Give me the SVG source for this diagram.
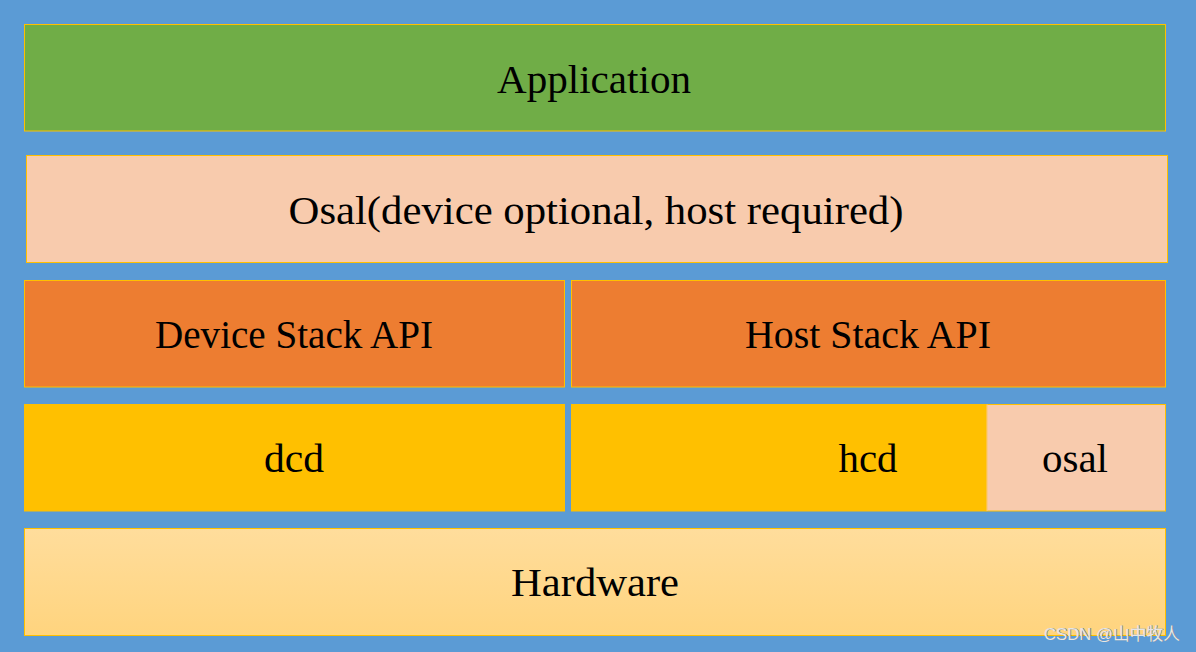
<svg xmlns="http://www.w3.org/2000/svg" width="1196" height="652" viewBox="0 0 1196 652">
  <style>
    .box { stroke: #FFC000; stroke-width: 1; }
    .lbl { font-family: "Liberation Serif", "DejaVu Serif", serif; font-size: 39px; fill: #000; text-anchor: middle; }
    .wm { font-family: "Liberation Sans", "Noto Sans CJK SC", sans-serif; font-size: 17px; fill: #e6e6e6; }
  </style>
  <defs>
    <linearGradient id="hwGrad" x1="0" y1="0" x2="0" y2="1">
      <stop offset="0" stop-color="#FFDD9C"/>
      <stop offset="1" stop-color="#FFD47E"/>
    </linearGradient>
  </defs>
  <rect x="0" y="0" width="1196" height="652" fill="#5B9BD5"/>

  <g id="application">
    <rect class="box" x="24.5" y="24.5" width="1141" height="106.5" fill="#70AD47"/>
    <text class="lbl" x="594" y="92.5" textLength="194" lengthAdjust="spacingAndGlyphs">Application</text>
  </g>

  <g id="osal-layer">
    <rect class="box" x="26.5" y="155.5" width="1141" height="107" fill="#F8CBAD"/>
    <text class="lbl" x="596" y="223.5" textLength="615" lengthAdjust="spacingAndGlyphs">Osal(device optional, host required)</text>
  </g>

  <g id="device-stack-api">
    <rect class="box" x="24.5" y="280.5" width="540" height="106.5" fill="#ED7D31"/>
    <text class="lbl" x="294" y="347.5" textLength="278" lengthAdjust="spacingAndGlyphs">Device Stack API</text>
  </g>

  <g id="host-stack-api">
    <rect class="box" x="571.5" y="280.5" width="594" height="106.5" fill="#ED7D31"/>
    <text class="lbl" x="868" y="347.5" textLength="246" lengthAdjust="spacingAndGlyphs">Host Stack API</text>
  </g>

  <g id="dcd">
    <rect x="24" y="404" width="541" height="107.5" fill="#FFC000"/>
    <text class="lbl" x="294" y="471.5" textLength="60" lengthAdjust="spacingAndGlyphs">dcd</text>
  </g>

  <g id="hcd">
    <rect x="571" y="404" width="416" height="107.5" fill="#FFC000"/>
    <text class="lbl" x="868" y="471.5" textLength="59" lengthAdjust="spacingAndGlyphs">hcd</text>
  </g>

  <g id="osal">
    <rect class="box" x="987" y="404.5" width="178.5" height="106.5" fill="#F8CBAD"/>
    <rect x="986.6" y="404.6" width="1" height="106.3" fill="#F8CBAD"/>
    <text class="lbl" x="1075" y="471.5" textLength="66" lengthAdjust="spacingAndGlyphs">osal</text>
  </g>

  <g id="hardware">
    <rect class="box" x="24.5" y="528.5" width="1141" height="107" fill="url(#hwGrad)"/>
    <text class="lbl" x="595" y="595.5" textLength="168" lengthAdjust="spacingAndGlyphs">Hardware</text>
  </g>

  <g id="connectors"></g>

  <g id="watermark">
    <text class="wm" x="1044.8" y="640.3" style="fill:#6f7f8f" textLength="136" lengthAdjust="spacingAndGlyphs">CSDN @山中牧人</text>
    <text class="wm" x="1044" y="639.5" textLength="136" lengthAdjust="spacingAndGlyphs">CSDN @山中牧人</text>
  </g>
</svg>
